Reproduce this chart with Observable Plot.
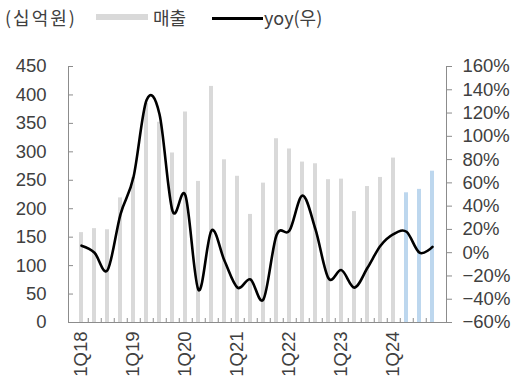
<!DOCTYPE html>
<html>
<head>
<meta charset="utf-8">
<script src="https://cdn.jsdelivr.net/npm/d3@7"></script>
<script src="https://cdn.jsdelivr.net/npm/@observablehq/plot@0.6"></script>
<style>
  body { margin: 0; background: #fff; }
  #wrap { position: relative; width: 517px; height: 385px; }
  #legend { position: relative; height: 40px; font-family: "Noto Sans CJK KR", "Liberation Sans", sans-serif; font-size: 18px; color: #404040; }
  #legend span, #legend i { position: absolute; display: block; }
  #legend .t { top: 4px; line-height: 26px; white-space: nowrap; }
  #legend .bar { left: 96px; top: 14px; width: 52px; height: 6px; background: #d9d9d9; }
  #legend .line { left: 212px; top: 17px; width: 51px; height: 2.5px; background: #000; }
</style>
</head>
<body>
<div id="wrap">
  <div id="legend">
    <span class="t" style="left:5px;letter-spacing:2px">(십억원)</span>
    <i class="bar"></i>
    <span class="t" style="left:153px">매출</span>
    <i class="line"></i>
    <span class="t" style="left:264px">yoy(우)</span>
  </div>
  <div id="chart"></div>
</div>
<script>
// Quarterly revenue (KRW bn) and year-over-year growth (%)
const quarters = [
  "1Q18","2Q18","3Q18","4Q18","1Q19","2Q19","3Q19","4Q19",
  "1Q20","2Q20","3Q20","4Q20","1Q21","2Q21","3Q21","4Q21",
  "1Q22","2Q22","3Q22","4Q22","1Q23","2Q23","3Q23","4Q23",
  "1Q24","2Q24","3Q24","4Q24"
];
const sales = [158,165,163,219,255,385,352,298,370,248,415,286,257,190,245,323,305,282,279,251,252,195,239,255,289,228,234,266];
const yoy   = [6,0,-15,33,65,131,119,36,49,-32,19,-7,-30,-23,-40,15,19,49,20,-22,-15,-30,-13,6,16,18,0,5];
const blueQuarters = new Set(["2Q24","3Q24","4Q24"]);
const leftTicks = [0,50,100,150,200,250,300,350,400,450];
const rightTicks = [-60,-40,-20,0,20,40,60,80,100,120,140,160];
const xLabels = quarters.filter((d, i) => i % 4 === 0);

// map the right-hand (yoy %) axis onto the left-hand (revenue) scale
const leftMax = 450, rMin = -60, rMax = 160;
const toLeft = v => (v - rMin) * leftMax / (rMax - rMin);
const fromLeft = y => y * (rMax - rMin) / leftMax + rMin;

const W = 517, H = 345, mL = 68, mR = 71, mT = 26, mB = 63;
const step = (W - mL - mR) / quarters.length;

const rows = quarters.map((q, i) => ({q, sales: sales[i], yoy: yoy[i], yl: toLeft(yoy[i])}));
const axisColor = "#8c8c8c";
const font = "'Liberation Sans', Arial, sans-serif";

const chart = Plot.plot({
  width: W, height: H,
  marginLeft: mL, marginRight: mR, marginTop: mT, marginBottom: mB,
  style: {fontFamily: font, fontSize: "18.5px", color: "#404040", background: "#fff"},
  x: {domain: quarters, paddingInner: 0.67, paddingOuter: 0.335, label: null},
  y: {domain: [0, leftMax], label: null},
  marks: [
    Plot.barY(rows, {x: "q", y: "sales", fill: d => blueQuarters.has(d.q) ? "#bdd7ee" : "#d9d9d9"}),
    Plot.frame({anchor: "left", stroke: axisColor}),
    Plot.frame({anchor: "right", stroke: axisColor}),
    Plot.frame({anchor: "bottom", stroke: axisColor}),
    Plot.ruleX(quarters.slice(0, -1), {x: d => d, y1: 0, y2: 7, dx: step / 2, stroke: axisColor}),
    Plot.axisY({anchor: "left", ticks: leftTicks, tickSize: -5, tickPadding: 27, stroke: axisColor, label: null}),
    Plot.axisY({anchor: "right", ticks: rightTicks.map(toLeft), tickSize: 5, tickPadding: 11, stroke: axisColor, label: null,
      tickFormat: d => `${Math.round(fromLeft(d))}%`.replace("-", "\u2212")}),
    Plot.axisX({ticks: xLabels, tickSize: 0, tickPadding: 9, tickRotate: -90, label: null}),
    Plot.lineY(rows, {x: "q", y: "yl", stroke: "#000", strokeWidth: 2.6, curve: "cardinal", tension: 0})
  ]
});
document.getElementById("chart").append(chart);
</script>
</body>
</html>
